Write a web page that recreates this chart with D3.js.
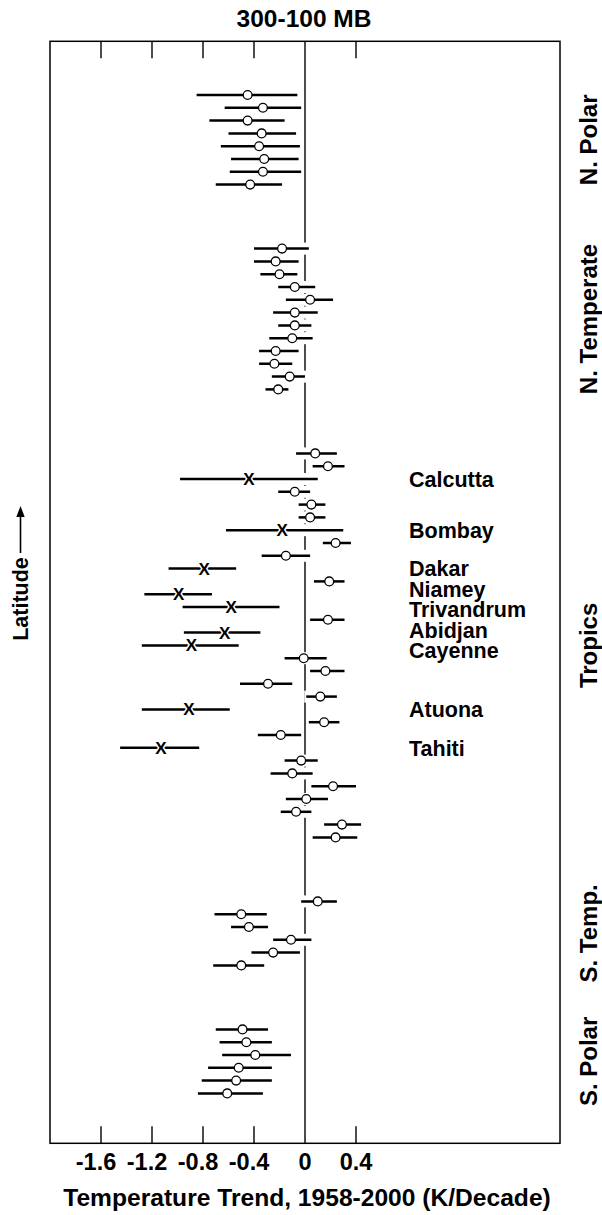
<!DOCTYPE html>
<html>
<head>
<meta charset="utf-8">
<script src="https://cdn.jsdelivr.net/npm/d3@7"></script>
<style>
  body { margin: 0; background: #fff; }
  svg text { font-family: "Liberation Sans", Arial, Helvetica, sans-serif; font-weight: bold; fill: #000; }
</style>
</head>
<body>
<svg id="chart" width="602" height="1215"></svg>
<script>
// Latitude bands, listed north to south
const regions = ["N. Polar", "N. Temperate", "Tropics", "S. Temp.", "S. Polar"];

// Trend (K/decade) with lower and upper bounds of the range, station by station
const nPolarTrend = [-0.45, -0.33, -0.45, -0.34, -0.36, -0.32, -0.33, -0.43];
const nPolarLow   = [-0.85, -0.63, -0.75, -0.60, -0.66, -0.58, -0.59, -0.70];
const nPolarHigh  = [-0.06, -0.03, -0.16, -0.07, -0.04, -0.05, -0.03, -0.18];

const nTempTrend = [-0.18, -0.23, -0.20, -0.08, 0.04, -0.08, -0.08, -0.10, -0.23, -0.24, -0.12, -0.21];
const nTempLow   = [-0.40, -0.40, -0.35, -0.21, -0.15, -0.25, -0.21, -0.28, -0.36, -0.36, -0.26, -0.31];
const nTempHigh  = [0.03, -0.05, -0.06, 0.08, 0.22, 0.10, 0.05, 0.06, -0.05, -0.10, 0.00, -0.13];

const tropicsTrend = [0.08, 0.18, -0.44, -0.08, 0.05, 0.04, -0.18, 0.24, -0.15, -0.79, 0.19, -0.99, -0.58, 0.18, -0.63, -0.89,
                      -0.01, 0.16, -0.29, 0.12, -0.91, 0.15, -0.19, -1.13, -0.03, -0.10, 0.22, 0.01, -0.07, 0.29, 0.24];
const tropicsLow   = [-0.07, 0.06, -0.98, -0.21, -0.05, -0.05, -0.62, 0.14, -0.34, -1.07, 0.07, -1.26, -0.96, 0.04, -0.95, -1.28,
                      -0.16, 0.04, -0.51, 0.01, -1.28, 0.03, -0.37, -1.45, -0.16, -0.27, 0.05, -0.15, -0.19, 0.15, 0.06];
const tropicsHigh  = [0.25, 0.31, 0.10, 0.04, 0.16, 0.16, 0.30, 0.36, 0.04, -0.54, 0.31, -0.73, -0.20, 0.31, -0.35, -0.52,
                      0.17, 0.31, -0.10, 0.25, -0.59, 0.27, -0.03, -0.83, 0.10, 0.06, 0.40, 0.18, 0.05, 0.44, 0.41];
// Named stations in the tropics (drawn with an X); empty where unnamed
const tropicsStation = ["", "", "Calcutta", "", "", "", "Bombay", "", "", "Dakar", "", "Niamey", "Trivandrum", "", "Abidjan", "Cayenne",
                        "", "", "", "", "Atuona", "", "", "Tahiti", "", "", "", "", "", "", ""];

const sTempTrend = [0.10, -0.50, -0.44, -0.11, -0.25, -0.50];
const sTempLow   = [-0.03, -0.71, -0.58, -0.25, -0.42, -0.72];
const sTempHigh  = [0.25, -0.30, -0.29, 0.05, -0.04, -0.32];

const sPolarTrend = [-0.49, -0.46, -0.39, -0.52, -0.54, -0.61];
const sPolarLow   = [-0.70, -0.67, -0.65, -0.76, -0.81, -0.84];
const sPolarHigh  = [-0.29, -0.26, -0.11, -0.26, -0.26, -0.33];

const xTicks = [-1.6, -1.2, -0.8, -0.4, 0, 0.4];
const title = "300-100 MB";
const xTitle = "Temperature Trend, 1958-2000 (K/Decade)";
const yTitle = "Latitude";

// ---- assemble rows: one slot per station, empty slots between bands ----
const bands = [
  { name: regions[0], trend: nPolarTrend, low: nPolarLow, high: nPolarHigh },
  { name: regions[1], trend: nTempTrend,  low: nTempLow,  high: nTempHigh },
  { name: regions[2], trend: tropicsTrend, low: tropicsLow, high: tropicsHigh, station: tropicsStation },
  { name: regions[3], trend: sTempTrend,  low: sTempLow,  high: sTempHigh },
  { name: regions[4], trend: sPolarTrend, low: sPolarLow, high: sPolarHigh }
];
const GAP = 4;
const rows = [];
let slot = 0;
bands.forEach(b => {
  b.first = slot;
  b.trend.forEach((v, i) => {
    rows.push({ slot: slot, trend: v, low: b.low[i], high: b.high[i], station: b.station ? b.station[i] : "" });
    slot++;
  });
  b.last = slot - 1;
  slot += GAP;
});
const lastSlot = slot - GAP - 1;

// ---- layout ----
const frame = { left: 50, right: 560, top: 41.3, bottom: 1143.3 };

const x = d3.scaleLinear().domain([-2, 2]).range([frame.left, frame.right]);
const y = d3.scaleLinear().domain([0, lastSlot]).range([95, 1093.4]);

const svg = d3.select("#chart");

function place(sel, px, py, rot) {
  sel.attr("transform", `translate(${px},${py}) rotate(${rot || 0})`);
  return sel;
}

// frame
svg.append("rect")
  .attr("x", frame.left).attr("y", frame.top)
  .attr("width", frame.right - frame.left).attr("height", frame.bottom - frame.top)
  .attr("fill", "none").attr("stroke", "#000").attr("stroke-width", 1.5);

// inward ticks along top and bottom edges
const tickLen = 17;
xTicks.filter(t => t !== 0).forEach(t => {
  svg.append("line").attr("x1", x(t)).attr("x2", x(t)).attr("y1", frame.top).attr("y2", frame.top + tickLen)
    .attr("stroke", "#000").attr("stroke-width", 1.4);
  svg.append("line").attr("x1", x(t)).attr("x2", x(t)).attr("y1", frame.bottom).attr("y2", frame.bottom - tickLen)
    .attr("stroke", "#000").attr("stroke-width", 1.4);
});

// zero reference line
svg.append("line").attr("x1", x(0)).attr("x2", x(0)).attr("y1", frame.top).attr("y2", frame.bottom)
  .attr("stroke", "#000").attr("stroke-width", 1.4);

// white clearance behind ranges that cross the zero line
const pad = 1.5;
svg.append("g").selectAll("rect")
  .data(rows.filter(r => x(r.low) - pad < x(0) && x(r.high) + pad > x(0)))
  .join("rect")
  .attr("x", r => x(r.low) - 2).attr("width", r => x(r.high) - x(r.low) + 4)
  .attr("y", r => y(r.slot) - 6).attr("height", 12)
  .attr("fill", "#fff");

// range bars
svg.append("g").selectAll("line")
  .data(rows).join("line")
  .attr("x1", r => x(r.low)).attr("x2", r => x(r.high))
  .attr("y1", r => y(r.slot)).attr("y2", r => y(r.slot))
  .attr("stroke", "#000").attr("stroke-width", 2.5);

// open circles for unnamed stations
svg.append("g").selectAll("circle")
  .data(rows.filter(r => !r.station)).join("circle")
  .attr("cx", r => x(r.trend)).attr("cy", r => y(r.slot)).attr("r", 4.4)
  .attr("fill", "#fff").attr("stroke", "#000").attr("stroke-width", 1.3);

// X markers for named stations
svg.append("g").selectAll("text")
  .data(rows.filter(r => r.station)).join("text")
  .attr("x", r => x(r.trend)).attr("y", r => y(r.slot) + 6)
  .attr("text-anchor", "middle").style("font-size", "17px")
  .attr("stroke", "#fff").attr("stroke-width", 3).attr("paint-order", "stroke")
  .text("X");

// station names, spread apart where rows are crowded
const named = rows.filter(r => r.station).map(r => ({ name: r.station, y: y(r.slot) }));
const minGap = 20.5;
for (let it = 0; it < 200; it++) {
  for (let i = 1; i < named.length; i++) {
    const d = named[i].y - named[i - 1].y;
    if (d < minGap) {
      const push = (minGap - d) / 2;
      named[i - 1].y -= push;
      named[i].y += push;
    }
  }
}
named.forEach(n => {
  place(svg.append("text").style("font-size", "21.5px").text(n.name), 409, n.y + 7.7, 0);
});

// band names on the right
bands.forEach(b => {
  const cy = (y(b.first) + y(b.last)) / 2;
  place(svg.append("text").attr("text-anchor", "middle").style("font-size", "24px").text(b.name), 597, cy, -90);
});

// tick labels
xTicks.forEach(t => {
  const lab = svg.append("text").attr("text-anchor", "middle").style("font-size", "23.5px")
    .attr("dx", t < 0 ? -5 : 0)
    .text(t === 0 ? "0" : String(t));
  place(lab, x(t), 1169.5, 0);
});

// titles
place(svg.append("text").attr("text-anchor", "middle").style("font-size", "24.5px").text(title), 304, 27, 0);
place(svg.append("text").attr("text-anchor", "middle").style("font-size", "24.6px").text(xTitle), 307, 1206, 0);

// y title with arrow pointing north
place(svg.append("text").attr("text-anchor", "middle").style("font-size", "21.5px").text(yTitle), 28, 599, -90);
svg.append("line").attr("x1", 20.5).attr("x2", 20.5).attr("y1", 553).attr("y2", 514)
  .attr("stroke", "#000").attr("stroke-width", 1.6);
svg.append("path").attr("d", "M20.5,506 L16.3,517 L24.7,517 Z").attr("fill", "#000");
</script>
</body>
</html>
